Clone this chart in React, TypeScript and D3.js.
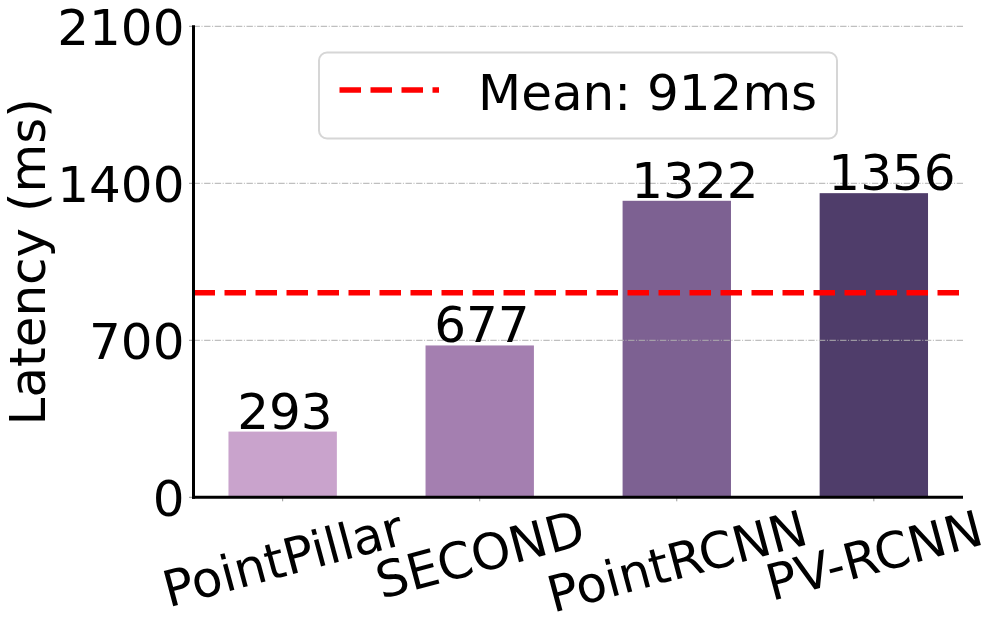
import React from "react";
import * as d3 from "d3";

const categories = ["PointPillar", "SECOND", "PointRCNN", "PV-RCNN"];
const latencies = [293, 677, 1322, 1356];
const barColors = ["#c9a3cc", "#a47fb0", "#7d6192", "#4f3d6a"];
const yTicks = [0, 700, 1400, 2100];
const meanValue = 912;
const legendLabel = "Mean: 912ms";
const yLabel = "Latency (ms)";

const W = 994;
const H = 626;
const FONT = "DejaVu Sans, sans-serif";
const FS = 50;

function measure(text: string, size: number): number {
  try {
    const c = document.createElement("canvas");
    const ctx = c.getContext("2d");
    if (ctx) {
      ctx.font = `${size}px "DejaVu Sans"`;
      return ctx.measureText(text).width;
    }
  } catch (e) {}
  return text.length * size * 0.6;
}

export default function App() {
  const left = 193.5;
  const right = 963;
  const top = 26.3;
  const bottom = 497.3;
  const barW = 0.55;
  const n = categories.length;
  const margin = 0.05 * (n - 1 + barW);
  const x = d3
    .scaleLinear()
    .domain([-barW / 2 - margin, n - 1 + barW / 2 + margin])
    .range([left, right]);
  const y = d3.scaleLinear().domain([0, 2100]).range([bottom, top]);

  const angle = 15;
  const rad = (angle * Math.PI) / 180;

  return (
    <svg
      width={W}
      height={H}
      style={{ position: "absolute", left: 0, top: 0, background: "#fff" }}
      fontFamily={FONT}
    >
      {/* bars */}
      {latencies.map((v, i) => (
        <rect
          key={"b" + i}
          x={x(i - barW / 2)}
          y={y(v)}
          width={x(i + barW / 2) - x(i - barW / 2)}
          height={y(0) - y(v)}
          fill={barColors[i]}
        />
      ))}
      {/* grid */}
      {yTicks.map((t) => (
        <line
          key={"g" + t}
          x1={left}
          x2={right}
          y1={y(t)}
          y2={y(t)}
          stroke="#b0b0b0"
          strokeWidth={1}
          strokeDasharray="6.4,1.6,1,1.6"
        />
      ))}
      {/* mean line */}
      <line
        x1={left}
        x2={right}
        y1={y(meanValue)}
        y2={y(meanValue)}
        stroke="#ff0000"
        strokeWidth={5.5}
        strokeDasharray="21.5,9.5"
      />
      {/* value labels */}
      {latencies.map((v, i) => (
        <text
          key={"v" + i}
          x={x(i) - 45.5}
          y={y(v) - 3}
          textAnchor="start"
          fontSize={FS}
          fill="#000"
        >
          {v}
        </text>
      ))}
      {/* y ticks */}
      {yTicks.map((t) => (
        <g key={"yt" + t}>
          <line x1={left - 4.5} x2={left} y1={y(t)} y2={y(t)} stroke="#999" strokeWidth={1} />
          <text x={left - 9} y={y(t) + 18.3} textAnchor="end" fontSize={FS} fill="#000">
            {t}
          </text>
        </g>
      ))}
      {/* x ticks */}
      {categories.map((c, i) => {
        const w = measure(c, FS);
        const h = FS * 1.164;
        const bh = w * Math.sin(rad) + h * Math.cos(rad);
        const cx = x(i);
        const cy = bottom + 0.5 + bh / 2;
        return (
          <g key={"xt" + i}>
            <line x1={cx} x2={cx} y1={bottom} y2={bottom + 4} stroke="#999" strokeWidth={1} />
            <text
              transform={`translate(${cx},${cy}) rotate(${-angle})`}
              x={0}
              y={FS * 0.37}
              textAnchor="middle"
              fontSize={FS}
              fill="#000"
            >
              {c}
            </text>
          </g>
        );
      })}
      {/* spines */}
      <line x1={left} x2={left} y1={top - 1} y2={bottom + 1.5} stroke="#000" strokeWidth={3} />
      <line x1={left - 1.5} x2={right} y1={bottom} y2={bottom} stroke="#000" strokeWidth={3} />
      {/* y label */}
      <text
        transform={`translate(45,${(top + bottom) / 2}) rotate(-90)`}
        textAnchor="middle"
        fontSize={FS}
        fill="#000"
      >
        {yLabel}
      </text>
      {/* legend */}
      <rect
        x={319}
        y={52.5}
        width={518}
        height={86}
        rx={8}
        ry={8}
        fill="#fff"
        fillOpacity={0.8}
        stroke="#d6d6d6"
        strokeWidth={2}
      />
      <line
        x1={339.5}
        x2={439}
        y1={90}
        y2={90}
        stroke="#ff0000"
        strokeWidth={5.5}
        strokeDasharray="21.5,9.5"
      />
      <text x={478} y={110} fontSize={FS} fill="#000">
        {legendLabel}
      </text>
    </svg>
  );
}
